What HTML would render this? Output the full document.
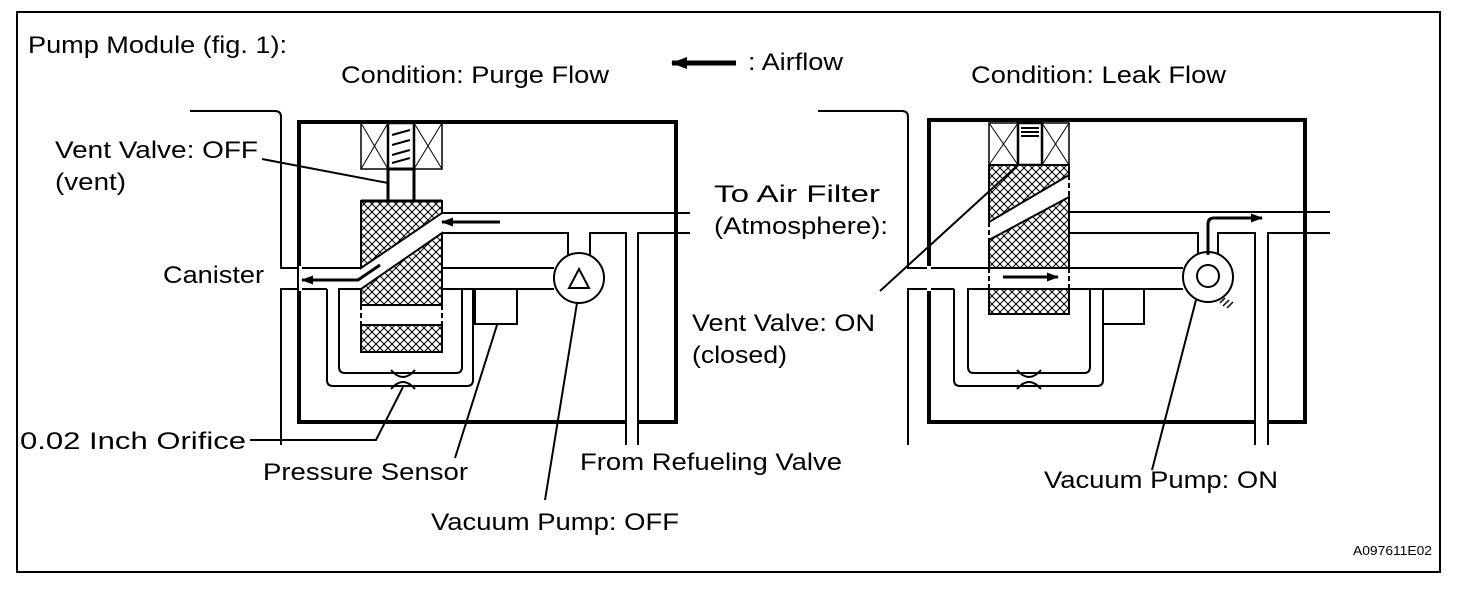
<!DOCTYPE html>
<html><head><style>
html,body{margin:0;padding:0;background:#fff;}
svg{display:block;}
text{font-family:"Liberation Sans",Arial,sans-serif;font-size:24px;fill:#000;}
</style></head><body>
<svg width="1472" height="600" viewBox="0 0 1472 600" xmlns="http://www.w3.org/2000/svg">
<defs>
<pattern id="h" width="8" height="8" patternUnits="userSpaceOnUse">
<rect width="8" height="8" fill="#fff"/>
<path d="M0,0L8,8M8,0L0,8" stroke="#000" stroke-width="1"/>
</pattern>
<marker id="ar" markerWidth="12" markerHeight="9" refX="11" refY="4.5" orient="auto" markerUnits="userSpaceOnUse">
<path d="M0,0L12,4.5L0,9Z" fill="#000"/>
</marker>
<marker id="ar2" markerWidth="16" markerHeight="12" refX="15" refY="6" orient="auto" markerUnits="userSpaceOnUse">
<path d="M0,0L16,6L0,12Z" fill="#000"/>
</marker>
</defs>
<rect x="17" y="12" width="1423" height="560" fill="none" stroke="#000" stroke-width="2"/>

<text x="28" y="53" textLength="259" lengthAdjust="spacingAndGlyphs">Pump Module (fig. 1):</text>
<text x="341" y="83" textLength="268" lengthAdjust="spacingAndGlyphs">Condition: Purge Flow</text>
<line x1="736" y1="63" x2="672" y2="63" stroke="#000" stroke-width="5" marker-end="url(#ar2)"/>
<text x="748" y="70" textLength="95" lengthAdjust="spacingAndGlyphs">: Airflow</text>
<text x="971" y="83" textLength="255" lengthAdjust="spacingAndGlyphs">Condition: Leak Flow</text>

<!-- ================= LEFT DIAGRAM ================= -->
<g fill="none" stroke="#000" stroke-width="2">
<path d="M190,111H275Q281,111 281,117V268H361"/>
<path d="M281,445V289H327"/>
<rect x="299" y="122" width="377" height="300" stroke-width="4"/>
<rect x="299" y="266" width="3" height="25" fill="#fff" stroke="none"/>
<path d="M442,213H690"/>
<path d="M442,233H568V256M590,256V233H626V445M638,445V233H690"/>
<rect x="627" y="420" width="10" height="4" fill="#fff" stroke="none"/>
<path d="M442,268H554M475,289H554"/>
<rect x="475" y="289" width="42" height="35"/>
<path d="M327,289V380Q327,386 333,386H467Q473,386 473,380V289H462V367Q462,373 456,373H345Q339,373 339,367V289H361M442,289H462"/>
<circle cx="579" cy="278" r="25" fill="#fff"/>
<path d="M569,288L579,269L589,288Z"/>
<rect x="361" y="123" width="27" height="46" stroke-width="1.5"/>
<rect x="414" y="123" width="28" height="46" stroke-width="1.5"/>
<path d="M361,123L388,169M388,123L361,169M414,123L442,169M442,123L414,169" stroke-width="1"/>
<rect x="388" y="123" width="26" height="46" stroke-width="2.5"/>
<path d="M392,135L410,130M392,145L410,140M392,155L410,150M392,163L410,158" stroke-width="2"/>
<rect x="388" y="169" width="26" height="32" stroke-width="3"/>
</g>
<path d="M361,201H442V213L361,268Z" fill="url(#h)" stroke="#000" stroke-width="2"/>
<path d="M442,233V305H361V289L442,233Z" fill="url(#h)" stroke="#000" stroke-width="2"/>
<rect x="361" y="325" width="81" height="27" fill="url(#h)" stroke="#000" stroke-width="2"/>
<path d="M361,305V325M442,305V325" stroke="#000" stroke-width="2" stroke-dasharray="5,3"/>
<line x1="361" y1="201" x2="442" y2="201" stroke="#000" stroke-width="3"/>
<line x1="500" y1="222" x2="442" y2="222" stroke="#000" stroke-width="3" marker-end="url(#ar)"/>
<path d="M380,265L358,280H302" fill="none" stroke="#000" stroke-width="3" marker-end="url(#ar)"/>
<path d="M391,370Q403,384 415,370M391,389Q403,375 415,389" fill="none" stroke="#000" stroke-width="2"/>
<g fill="none" stroke="#000" stroke-width="2">
<path d="M262,159L388,183"/>
<path d="M250,440H376L403,387"/>
<path d="M455,458L497,325"/>
<path d="M545,500L577,303"/>
</g>
<text x="55" y="158" textLength="203" lengthAdjust="spacingAndGlyphs">Vent Valve: OFF</text>
<text x="55" y="190" textLength="71" lengthAdjust="spacingAndGlyphs">(vent)</text>
<text x="163" y="283" textLength="101" lengthAdjust="spacingAndGlyphs">Canister</text>
<text x="714" y="202" textLength="166" lengthAdjust="spacingAndGlyphs">To Air Filter</text>
<text x="714" y="234" textLength="174" lengthAdjust="spacingAndGlyphs">(Atmosphere):</text>
<text x="20" y="449" textLength="226" lengthAdjust="spacingAndGlyphs">0.02 Inch Orifice</text>
<text x="263" y="480" textLength="205" lengthAdjust="spacingAndGlyphs">Pressure Sensor</text>
<text x="580" y="470" textLength="262" lengthAdjust="spacingAndGlyphs">From Refueling Valve</text>
<text x="431" y="530" textLength="248" lengthAdjust="spacingAndGlyphs">Vacuum Pump: OFF</text>

<!-- ================= RIGHT DIAGRAM ================= -->
<g fill="none" stroke="#000" stroke-width="2">
<path d="M818,111H902Q908,111 908,117V268H1183"/>
<path d="M908,445V289H954"/>
<rect x="929" y="120" width="376" height="302" stroke-width="4"/>
<rect x="927" y="266" width="4" height="25" fill="#fff" stroke="none"/>
<path d="M1069,212H1330"/>
<path d="M1069,233H1198V256M1218,256V233H1255V445M1268,445V233H1330"/>
<rect x="1256" y="420" width="11" height="4" fill="#fff" stroke="none"/>
<path d="M1103,289H1183"/>
<rect x="1103" y="289" width="41" height="35"/>
<path d="M954,289V380Q954,386 960,386H1097Q1103,386 1103,380V289H1090V367Q1090,373 1084,373H974Q968,373 968,367V289H989M1069,289H1090"/>
<circle cx="1208" cy="277" r="25" fill="#fff"/>
<circle cx="1208" cy="276" r="11"/>
<path d="M1225,298l-5,5M1229,300l-6,6M1233,302l-6,6" stroke-width="1.5"/>
<rect x="989" y="123" width="29" height="42" stroke-width="1.5"/>
<rect x="1042" y="123" width="27" height="42" stroke-width="1.5"/>
<path d="M989,123L1018,165M1018,123L989,165M1042,123L1069,165M1069,123L1042,165" stroke-width="1"/>
<rect x="1018" y="123" width="24" height="42" stroke-width="2.5"/>
<path d="M1021,128h18M1021,132h18M1021,136h18" stroke-width="2"/>
</g>
<path d="M989,165H1069V175L989,222Z" fill="url(#h)" stroke="#000" stroke-width="2"/>
<path d="M1069,197V268H989V240Z" fill="url(#h)" stroke="#000" stroke-width="2"/>
<rect x="989" y="289" width="80" height="25" fill="url(#h)" stroke="#000" stroke-width="2"/>
<path d="M989,222V240M1069,175V197M989,268V289M1069,268V289" stroke="#000" stroke-width="2" stroke-dasharray="5,3"/>
<line x1="1003" y1="277" x2="1058" y2="277" stroke="#000" stroke-width="3" marker-end="url(#ar)"/>
<path d="M1208,255V224Q1208,218 1214,218H1262" fill="none" stroke="#000" stroke-width="3" marker-end="url(#ar)"/>
<path d="M1017,370Q1029,384 1041,370M1017,389Q1029,375 1041,389" fill="none" stroke="#000" stroke-width="2"/>
<g fill="none" stroke="#000" stroke-width="2">
<path d="M880,291L1018,165"/>
<path d="M1152,470L1196,300"/>
</g>
<text x="692" y="331" textLength="183" lengthAdjust="spacingAndGlyphs">Vent Valve: ON</text>
<text x="692" y="363" textLength="95" lengthAdjust="spacingAndGlyphs">(closed)</text>
<text x="1044" y="488" textLength="234" lengthAdjust="spacingAndGlyphs">Vacuum Pump: ON</text>
<text x="1353" y="555" style="font-size:13px" textLength="79" lengthAdjust="spacingAndGlyphs">A097611E02</text>
</svg>
</body></html>
